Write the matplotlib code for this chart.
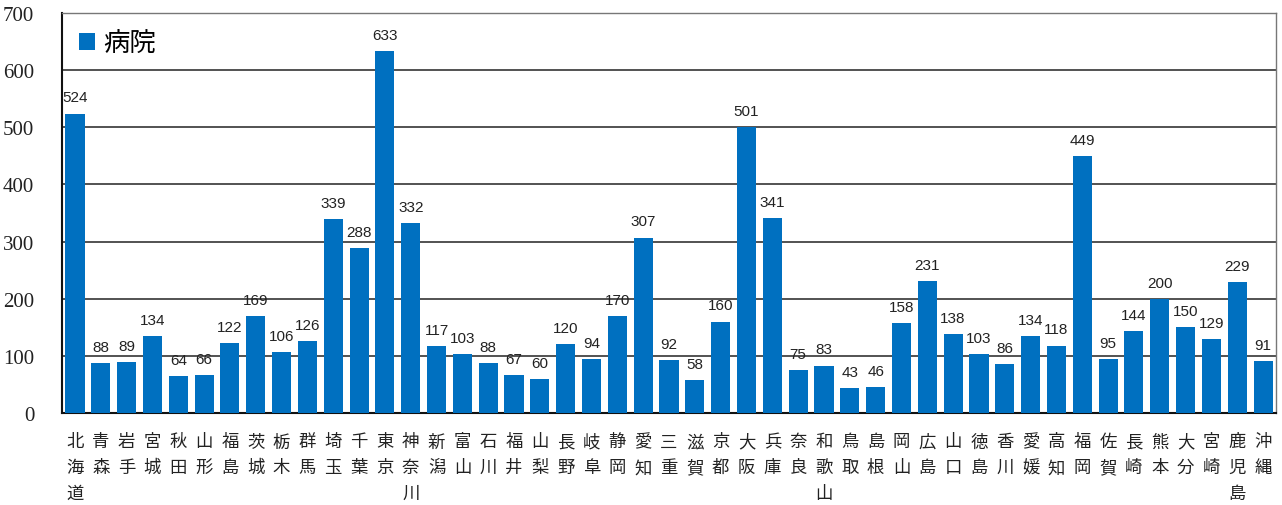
import matplotlib
matplotlib.use("Agg")
import matplotlib.pyplot as plt
import numpy as np

plt.rcParams['font.family'] = ['Noto Sans CJK JP', 'DejaVu Sans']

prefectures = ["北海道", "青森", "岩手", "宮城", "秋田", "山形", "福島", "茨城", "栃木", "群馬",
               "埼玉", "千葉", "東京", "神奈川", "新潟", "富山", "石川", "福井", "山梨", "長野",
               "岐阜", "静岡", "愛知", "三重", "滋賀", "京都", "大阪", "兵庫", "奈良", "和歌山",
               "鳥取", "島根", "岡山", "広島", "山口", "徳島", "香川", "愛媛", "高知", "福岡",
               "佐賀", "長崎", "熊本", "大分", "宮崎", "鹿児島", "沖縄"]
hospitals = [524, 88, 89, 134, 64, 66, 122, 169, 106, 126,
             339, 288, 633, 332, 117, 103, 88, 67, 60, 120,
             94, 170, 307, 92, 58, 160, 501, 341, 75, 83,
             43, 46, 158, 231, 138, 103, 86, 134, 118, 449,
             95, 144, 200, 150, 129, 229, 91]
yticks = [0, 100, 200, 300, 400, 500, 600, 700]

fig = plt.figure(figsize=(12.82, 5.06), dpi=100)
ax = fig.add_axes([0.0484, 0.1818, 0.9469, 0.7905])

x = np.arange(len(prefectures))
bars = ax.bar(x, hospitals, width=0.74, color='#0070C0', label='病院', zorder=3)
for xi, v in zip(x, hospitals):
    ax.text(xi, v + 16, str(v), ha='center', va='bottom', fontsize=11,
            family=['Liberation Sans'], weight='medium', color='#222222', zorder=4)

ax.set_xlim(-0.5, len(prefectures) - 0.5)
ax.set_ylim(0, 700)
ax.set_yticks(yticks)
ax.set_yticklabels([str(t) for t in yticks], family=['Liberation Serif'], fontsize=15, color='#222222')
ax.tick_params(axis='y', length=0, pad=20)
ax.set_xticks(x)
ax.set_xticklabels(['\n'.join(p) for p in prefectures], fontsize=12.5, linespacing=1.55, va='top', color='#222222')
ax.tick_params(axis='x', length=0, pad=14)
ax.grid(axis='y', color='#444444', linewidth=1.3, zorder=1)
for s in ['top', 'right']:
    ax.spines[s].set_color('#777777')
    ax.spines[s].set_linewidth(1.0)
for s in ['left', 'bottom']:
    ax.spines[s].set_color('#111111')
    ax.spines[s].set_linewidth(1.5)

leg = ax.legend(loc='upper left', frameon=False, fontsize=19, handlelength=0.6, handleheight=0.6,
                handletextpad=0.3, borderaxespad=0.25, bbox_to_anchor=(0.0, 1.0))

fig.savefig('out.png', dpi=100)
